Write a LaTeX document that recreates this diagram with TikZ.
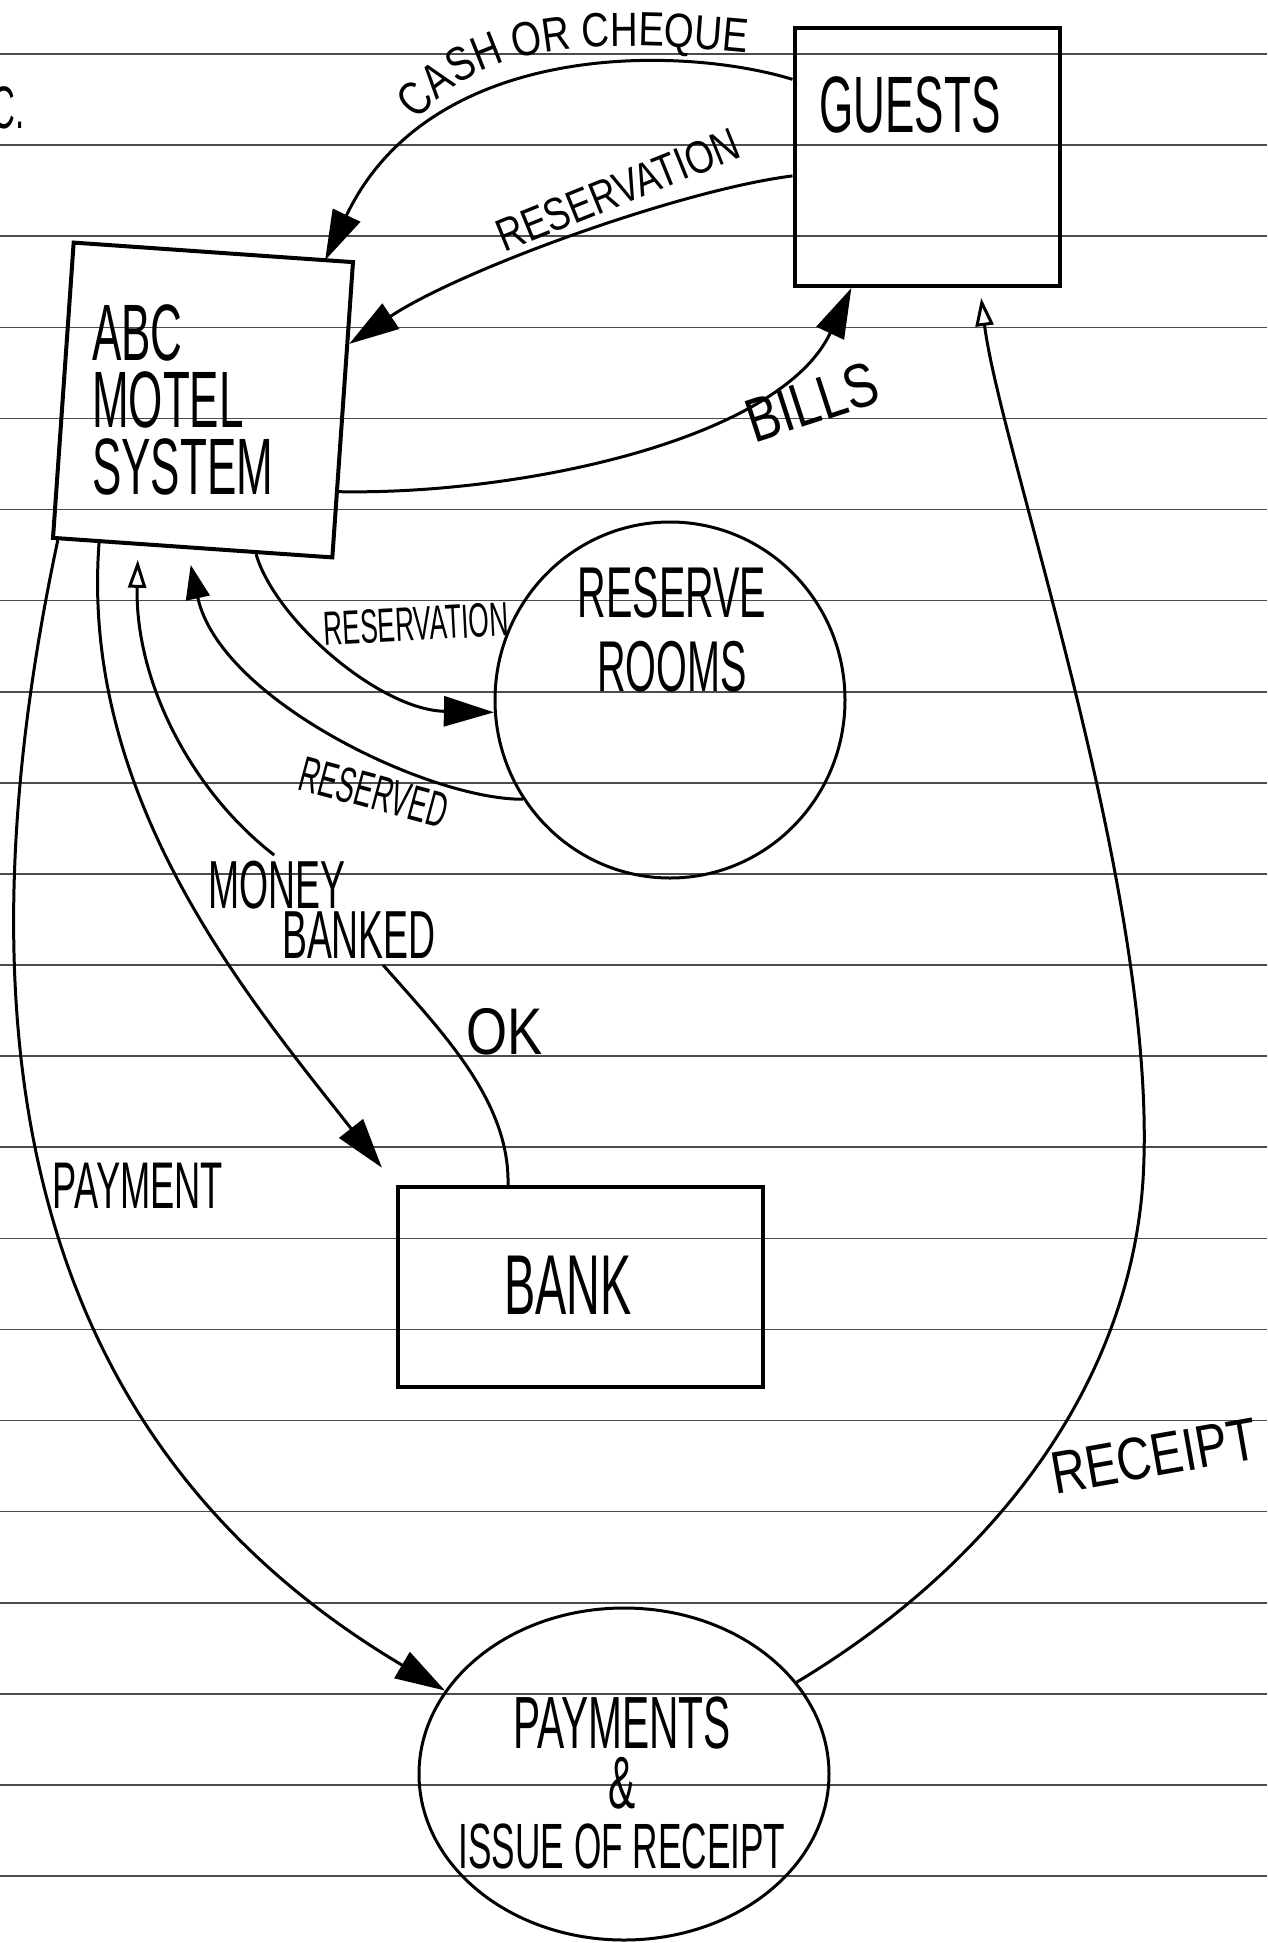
\documentclass[tikz,border=0pt]{standalone}
\usepackage{fontspec}
\setmainfont{Liberation Sans}
\newfontfamily\narrowhand{Liberation Sans}[FakeStretch=0.55]
\newfontfamily\widehand{Liberation Sans}[FakeStretch=0.8]
\usetikzlibrary{arrows.meta, shapes.geometric, decorations.text}

\tikzset{
  ruled/.style={black!70, line width=1.6pt},
  entity/.style={draw, line width=4pt, inner sep=0pt},
  process/.style={draw, ellipse, line width=3pt, inner sep=0pt},
  flow/.style={line width=3pt},
  bighead/.style={-{Triangle[length=50pt,width=30pt]}},
  midhead/.style={-{Triangle[length=34pt,width=24pt]}},
  openhead/.style={-{Triangle[open,length=28pt,width=18pt]}},
  bigname/.style={inner sep=0pt, font=\narrowhand\fontsize{80}{67}\selectfont},
  narrowlabel/.style={inner sep=0pt, font=\narrowhand\fontsize{#1}{#1}\selectfont},
  widelabel/.style={inner sep=0pt, font=\widehand\fontsize{#1}{#1}\selectfont}
}

\begin{document}
\begin{tikzpicture}[x=1pt, y=-1pt]
\useasboundingbox (0,0) rectangle (1267,1943);

\foreach \k in {0,...,20}
    \draw[ruled] (0,{54+91.1*\k}) -- (1267,{54+91.1*\k});

\node[narrowlabel=60] (corner) at (8,108) {C.};

\node[entity, rotate=-4, minimum width=280pt, minimum height=296pt] (abc) at (203,400) {};
\node[bigname, align=left, anchor=west] (abctext) at (92,400) {ABC\\MOTEL\\SYSTEM};

\node[entity, minimum width=265pt, minimum height=258pt] (guests) at (927,157) {};
\node[bigname] (gueststext) at (910,105) {GUESTS};

\node[process, minimum width=350pt, minimum height=356pt] (rooms) at (670,700) {};
\node[bigname, align=center, font=\narrowhand\fontsize{72}{74}\selectfont] (roomstext) at (672,630) {RESERVE\\ROOMS};

\node[entity, minimum width=365pt, minimum height=200pt] (bank) at (580,1287) {};
\node[bigname, font=\narrowhand\fontsize{85}{85}\selectfont] (banktext) at (568,1285) {BANK};

\node[process, minimum width=410pt, minimum height=332pt] (pay) at (624,1774) {};
\node[bigname, align=center, font=\narrowhand\fontsize{74}{60}\selectfont] (paytext) at (622,1783)
    {PAYMENTS\\\&\\{\fontsize{64}{60}\selectfont ISSUE OF RECEIPT}};

\node[widelabel=46, rotate=22] (lres1) at (618,190) {RESERVATION};
\node[widelabel=62, rotate=18] (lbills) at (812,402) {BILLS};
\node[narrowlabel=48, rotate=3] (lres2) at (416,624) {RESERVATION};
\node[narrowlabel=50, rotate=-15] (lreserved) at (374,792) {RESERVED};
\node[narrowlabel=68, align=left, inner sep=6pt, font=\narrowhand\fontsize{68}{50}\selectfont] (mb) at (322,910)
    {MONEY\\\hspace*{74pt}BANKED};
\node[widelabel=66] (lok) at (505,1032) {OK};
\node[narrowlabel=66] (lpayment) at (138,1186) {PAYMENT};
\node[widelabel=60, rotate=10] (lreceipt) at (1154,1456) {RECEIPT};

\path[decorate, decoration={text along path, text align=center,
    text={|\widehand\fontsize{48}{50}\selectfont|CASH OR CHEQUE}}]
    (405,140) .. controls (470,30) and (620,40) .. (770,55);

\draw[flow, bighead] (guests.150) .. controls (680,45) and (430,40) .. ([xshift=-30pt]abc.north east);
\draw[flow, bighead] (guests.188) .. controls (680,190) and (460,270) .. (abc.25);
\draw[flow, bighead] (abc.-30) .. controls (520,495) and (780,440) .. (guests.240);
\draw[flow, bighead] (abc.-67) .. controls (275,620) and (380,710) .. (rooms.184);
\draw[flow, midhead, shorten >=16pt] (rooms.214) .. controls (430,800) and (220,700) .. (abc.-92);
\draw[flow, bighead, shorten >=22pt] (abc.-122) .. controls (80,800) and (250,1000) .. (bank.north west);
\draw[flow] ([xshift=-72pt]bank.north) .. controls (510,1100) and (440,1030) .. (mb.-42);
\draw[flow, openhead, shorten >=14pt] (mb.131) .. controls (190,790) and (135,680) .. (abc.-110);
\draw[flow, bighead] (abc.-132) .. controls (-70,1140) and (90,1480) .. (pay.155);
\draw[flow, openhead, shorten >=10pt] (pay.28) .. controls (1000,1560) and (1130,1380) .. (1143,1180)
    .. controls (1160,900) and (1000,450) .. (guests.-68);

\end{tikzpicture}
\end{document}
